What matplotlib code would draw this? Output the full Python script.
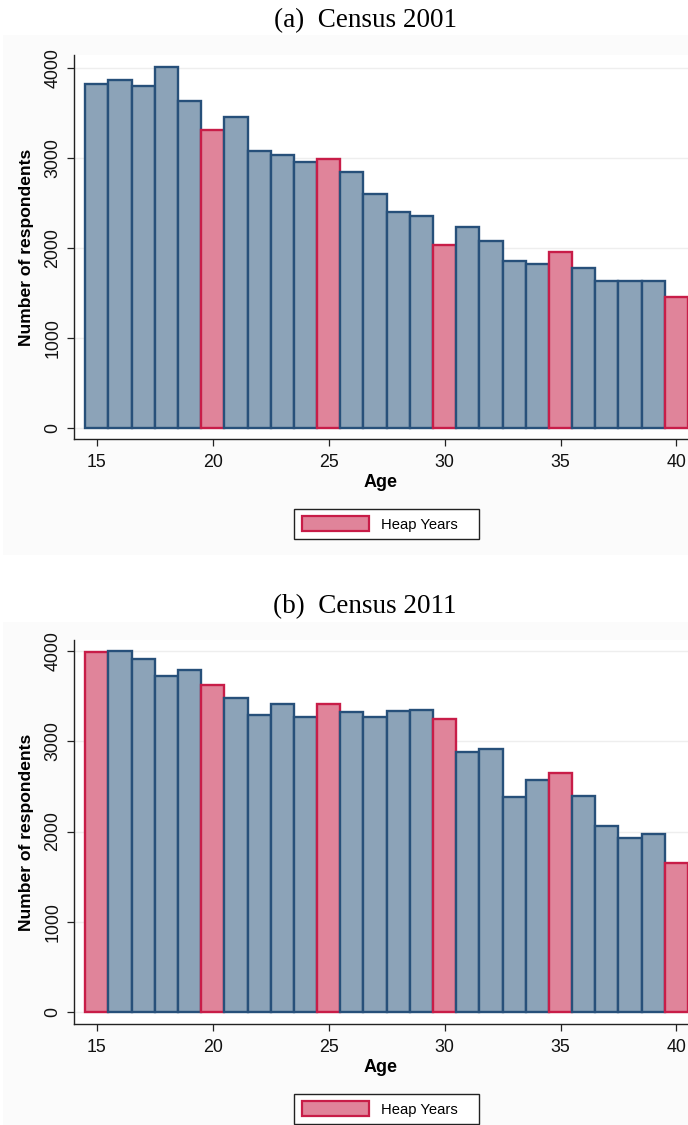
import matplotlib
matplotlib.use("Agg")
import matplotlib.pyplot as plt
from matplotlib.patches import Patch, Rectangle

# ---------------- data ----------------
ages = list(range(15, 41))
census_2001 = [3818, 3867, 3800, 4011, 3637, 3310, 3451, 3073, 3029, 2955,
               2988, 2840, 2602, 2395, 2358, 2035, 2228, 2076, 1853, 1816,
               1950, 1779, 1627, 1627, 1635, 1453]
census_2011 = [3985, 3993, 3908, 3720, 3786, 3620, 3480, 3289, 3406, 3263,
               3406, 3322, 3270, 3333, 3340, 3241, 2883, 2912, 2385, 2570,
               2643, 2393, 2061, 1924, 1972, 1648]
heap_2001 = [20, 25, 30, 35, 40]
heap_2011 = [15, 20, 25, 30, 35, 40]
titles = ["(a)  Census 2001", "(b)  Census 2011"]
xticks = [15, 20, 25, 30, 35, 40]
yticks = [0, 1000, 2000, 3000, 4000]
legend_label = "Heap Years"

# ---------------- style ----------------
W, H = 688, 1125
DPI = 100
BLUE_FILL = "#8ca3b8"
BLUE_EDGE = "#27507a"
PINK_FILL = "#e0849a"
PINK_EDGE = "#c81d48"
REGION = "#fbfbfb"

plt.rcParams["font.family"] = ["Liberation Sans", "DejaVu Sans"]

fig = plt.figure(figsize=(W / DPI, H / DPI), dpi=DPI)
fig.patch.set_facecolor("white")


def fx(px):
    return px / W


def fy(py):
    return 1 - py / H


# faint graph-region backgrounds
for top, bot in [(35, 555), (622, 1125)]:
    fig.patches.append(Rectangle((fx(3), fy(bot)), fx(W - 3), (bot - top) / H,
                                 transform=fig.transFigure, facecolor=REGION,
                                 edgecolor="none", zorder=-10))

panels = [
    dict(values=census_2001, heap=heap_2001, title=titles[0],
         top=55, bottom=439, ylim=(-126, 4145), title_y=21, leg_y=524),
    dict(values=census_2011, heap=heap_2011, title=titles[1],
         top=640, bottom=1024, ylim=(-129, 4118), title_y=607, leg_y=1109),
]

left_px = 73.7
for p in panels:
    ax = fig.add_axes([fx(left_px), fy(p["bottom"]), fx(W - left_px),
                       (p["bottom"] - p["top"]) / H])
    ax.set_facecolor("white")
    fills = [PINK_FILL if a in p["heap"] else BLUE_FILL for a in ages]
    edges = [PINK_EDGE if a in p["heap"] else BLUE_EDGE for a in ages]
    ax.bar(ages, p["values"], width=1.0, color=fills, edgecolor=edges,
           linewidth=1.7, zorder=3)
    ax.set_xlim(14.0, 40.5)
    ax.set_ylim(*p["ylim"])
    ax.set_xticks(xticks)
    ax.set_yticks(yticks)
    ax.set_yticklabels([str(t) for t in yticks], rotation=90, va="center")
    ax.tick_params(axis="both", labelsize=12.8, length=5, width=0.9,
                   color="#222222", labelcolor="#111111")
    ax.tick_params(axis="x", pad=6)
    ax.tick_params(axis="y", pad=4)
    ax.yaxis.grid(True, color="#eeeeee", linewidth=1.0, zorder=0)
    ax.set_axisbelow(True)
    for s in ["top", "right"]:
        ax.spines[s].set_visible(False)
    for s in ["left", "bottom"]:
        ax.spines[s].set_color("#222222")
        ax.spines[s].set_linewidth(1.0)
    ax.set_xlabel("Age", fontsize=13, fontweight="bold", labelpad=2)
    ax.set_ylabel("Number of respondents", fontsize=12.6, fontweight="bold",
                  labelpad=7)

    fig.text(fx(365), fy(p["title_y"]), p["title"], ha="center", va="center",
             fontsize=19.5, family=["Liberation Serif", "DejaVu Serif"])

    handle = Patch(facecolor=PINK_FILL, edgecolor=PINK_EDGE, linewidth=1.6)
    leg = fig.legend([handle], [legend_label], loc="center",
                     bbox_to_anchor=(fx(287), fy(p["leg_y"]), fx(199), 0),
                     bbox_transform=fig.transFigure, mode="expand",
                     fontsize=10.6, handlelength=4.6, handleheight=1.15,
                     handletextpad=0.8, borderpad=0.5, fancybox=False,
                     framealpha=1, edgecolor="#222222")
    leg.get_frame().set_linewidth(1.0)

fig.savefig("out.png", dpi=DPI)
